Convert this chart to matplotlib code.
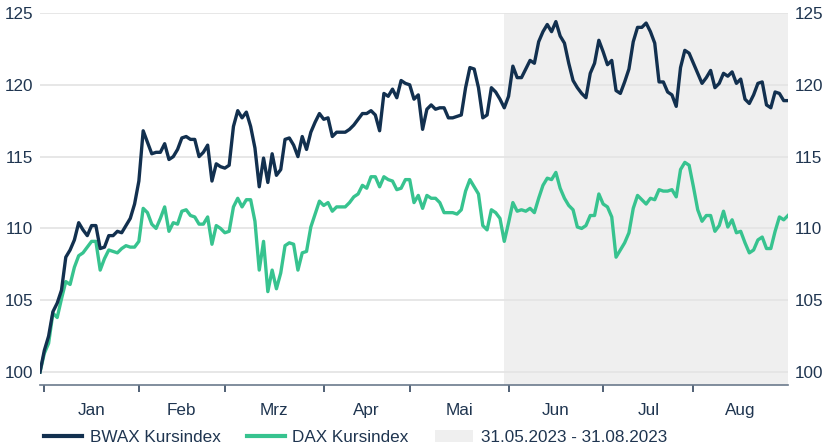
import numpy as np
import pandas as pd
import matplotlib
matplotlib.use("Agg")
import matplotlib.pyplot as plt
from matplotlib.patches import Patch
from matplotlib.lines import Line2D

# trading days, rebased to 100 at 30.12.2022
dates = pd.bdate_range("2022-12-30", "2023-08-31")

bwax = [
    100.0, 101.5, 102.5, 104.2, 104.8, 105.7, 108.0, 108.5, 109.2, 110.4,
    109.9, 109.5, 110.2, 110.2, 108.6, 108.7, 109.5, 109.5, 109.8, 109.7,
    110.2, 110.7, 111.7, 113.3, 116.8, 116.0, 115.2, 115.3, 115.3, 115.9,
    114.8, 115.0, 115.5, 116.3, 116.4, 116.2, 116.2, 115.0, 115.3, 115.8,
    113.3, 114.5, 114.3, 114.2, 114.4, 117.1, 118.2, 117.7, 118.1, 117.1,
    115.6, 112.9, 114.9, 113.2, 115.2, 113.7, 114.1, 116.2, 116.3, 115.8,
    115.0, 116.4, 115.5, 116.7, 117.4, 118.0, 117.6, 117.7, 116.4, 116.7,
    116.7, 116.7, 116.9, 117.2, 117.6, 118.0, 118.0, 118.2, 117.9, 116.8,
    119.4, 119.2, 119.7, 119.1, 120.3, 120.1, 120.0, 119.0, 119.3, 116.9,
    118.3, 118.6, 118.3, 118.4, 118.4, 117.7, 117.7, 117.8, 117.9, 119.8,
    121.2, 121.1, 119.8, 117.7, 117.9, 119.8, 119.5, 119.0, 118.4, 119.2,
    121.3, 120.5, 120.5, 121.1, 121.7, 121.5, 123.0, 123.7, 124.2, 123.7,
    124.4, 123.4, 122.9, 121.5, 120.3, 119.8, 119.4, 119.1, 120.8, 121.5,
    123.1, 122.3, 121.4, 121.7, 119.6, 119.4, 120.2, 121.1, 123.0, 124.0,
    124.0, 124.3, 123.7, 122.9, 120.2, 120.2, 119.5, 119.3, 118.5, 121.2,
    122.4, 122.2, 121.5, 120.8, 120.1, 120.5, 121.0, 119.8, 120.1, 120.8,
    120.6, 120.9, 120.1, 120.4, 119.0, 118.7, 119.3, 120.1, 120.2, 118.6,
    118.4, 119.5, 119.4, 118.9, 118.9,
]

dax = [
    100.0, 101.3, 102.0, 104.1, 103.8, 105.1, 106.3, 106.1, 107.3, 108.1,
    108.3, 108.7, 109.1, 109.1, 107.1, 107.9, 108.5, 108.4, 108.3, 108.6,
    108.8, 108.7, 108.7, 109.1, 111.4, 111.1, 110.3, 110.0, 110.7, 111.5,
    109.8, 110.4, 110.3, 111.2, 111.3, 110.9, 110.8, 110.3, 110.3, 110.8,
    108.9, 110.2, 110.0, 109.7, 109.8, 111.5, 112.1, 111.5, 112.0, 112.0,
    110.5, 107.1, 109.1, 105.6, 107.1, 105.8, 106.9, 108.8, 109.0, 108.9,
    107.1, 108.3, 108.4, 110.1, 111.0, 111.9, 111.6, 111.8, 111.2, 111.5,
    111.5, 111.5, 111.8, 112.2, 112.4, 113.0, 112.8, 113.6, 113.6, 112.9,
    113.6, 113.4, 113.3, 112.7, 112.8, 113.4, 113.4, 111.8, 112.3, 111.4,
    112.3, 112.1, 112.1, 111.8, 111.1, 111.1, 111.1, 111.0, 111.3, 112.6,
    113.4, 112.9, 112.4, 110.2, 109.9, 111.3, 111.1, 110.7, 109.1, 110.4,
    111.8, 111.2, 111.3, 111.2, 111.4, 111.1, 112.1, 113.0, 113.5, 113.4,
    113.9, 112.8, 112.1, 111.6, 111.3, 110.1, 110.0, 110.2, 110.9, 110.9,
    112.4, 111.7, 111.5, 110.8, 108.0, 108.5, 109.0, 109.7, 111.4, 112.3,
    112.0, 111.7, 112.1, 112.0, 112.7, 112.6, 112.6, 112.7, 112.2, 114.1,
    114.6, 114.4, 112.9, 111.3, 110.5, 110.9, 110.9, 109.8, 110.2, 111.2,
    110.1, 110.6, 109.7, 109.8, 109.0, 108.3, 108.5, 109.2, 109.4, 108.6,
    108.6, 109.8, 110.8, 110.6, 110.9,
]

month_labels = ["Jan", "Feb", "Mrz", "Apr", "Mai", "Jun", "Jul", "Aug"]
y_ticks = [100, 105, 110, 115, 120, 125]
period_start = "2023-05-31"
period_label = "31.05.2023 - 31.08.2023"

navy = "#12304f"
green = "#37c38f"
text_col = "#1f3550"
fs = 12.3

plt.rcParams["font.family"] = ["Liberation Sans", "DejaVu Sans"]
plt.rcParams["font.size"] = fs

x = np.arange(len(dates))
month = dates.month
starts = [i for i in range(len(dates)) if i > 0 and month[i] != month[i - 1]]
edges = starts + [len(dates) - 1]
mids = [(edges[i] + edges[i + 1]) / 2 for i in range(len(edges) - 1)]
shade_from = dates.get_loc(pd.Timestamp(period_start))

fig = plt.figure(figsize=(8.24, 4.48), dpi=100)
ax = fig.add_axes([40 / 824, 1 - 385 / 448, 748 / 824, 372 / 448])

ax.axvspan(shade_from, x[-1], color="#efefef", lw=0, zorder=0)
for yv in y_ticks:
    ax.axhline(yv, color="#e3e3e3", lw=1.2, zorder=0.5)

ax.plot(x, bwax, color=navy, lw=2.4, zorder=3, solid_joinstyle="round")
ax.plot(x, dax, color=green, lw=2.4, zorder=2, solid_joinstyle="round")

ax.set_xlim(0, x[-1])
ax.set_ylim(99.1, 125)

ax.set_yticks(y_ticks)
ax.tick_params(axis="y", length=0, labelleft=True, labelright=True,
               labelsize=fs, labelcolor=text_col, pad=5)

ax.set_xticks(starts)
ax.set_xticklabels([""] * len(starts))
ax.set_xticks(mids, minor=True)
ax.set_xticklabels(month_labels, minor=True)
ax.tick_params(axis="x", which="major", length=5, width=1.2, color="#33475f")
ax.tick_params(axis="x", which="minor", length=0, pad=13,
               labelsize=fs, labelcolor=text_col)

for s in ["top", "left", "right"]:
    ax.spines[s].set_visible(False)
ax.spines["bottom"].set_color("#6b7a8c")
ax.spines["bottom"].set_linewidth(1.2)

handles = [
    Line2D([], [], color=navy, lw=3),
    Line2D([], [], color=green, lw=3),
    Patch(facecolor="#efefef", edgecolor="none"),
]
labels = ["BWAX Kursindex", "DAX Kursindex", period_label]
leg = fig.legend(handles, labels, loc="center left", bbox_to_anchor=(0.054, 0.024),
                 ncol=3, frameon=False, handlelength=2.2, handletextpad=0.45,
                 columnspacing=1.55, fontsize=fs, borderaxespad=0, borderpad=0)
for t in leg.get_texts():
    t.set_color(text_col)

fig.savefig("out.png", dpi=100)
